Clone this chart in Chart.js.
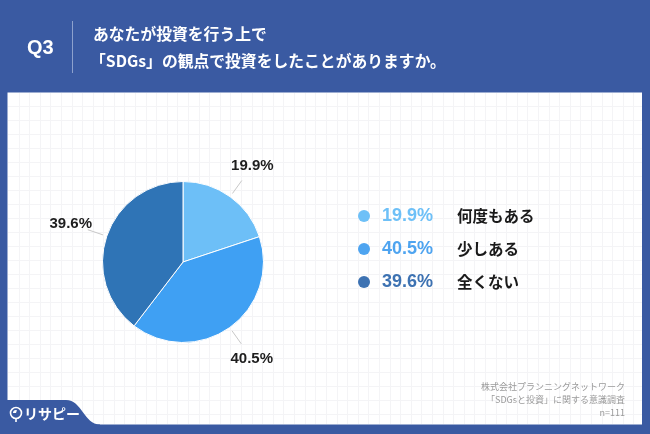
<!DOCTYPE html>
<html>
<head>
<meta charset="utf-8">
<script src="https://cdn.jsdelivr.net/npm/chart.js@4.4.0/dist/chart.umd.min.js"></script>
<style>
  body { margin: 0; background: #3a5aa2; }
  #wrap { width: 650px; height: 434px; }
</style>
</head>
<body>
<div id="wrap"><canvas id="myChart" width="650" height="434"></canvas></div>
<script>
// data
var categories = ['何度もある', '少しある', '全くない'];
var values = [19.9, 40.5, 39.6];
var sliceColors = ['#6dbff7', '#3fa0f3', '#2f74b6'];
var legendColors = ['#6ec0f7', '#4ea4f0', '#3d72b2'];
var titleLines = ['あなたが投資を行う上で', '「SDGs」の観点で投資をしたことがありますか。'];
var noteLines = ['株式会社プランニングネットワーク', '「SDGsと投資」に関する意識調査', 'n=111'];

var BLUE = '#3a5aa2';
var JP = '"Noto Sans CJK JP", "Noto Sans", sans-serif';
var NUM = '"Liberation Sans", "Noto Sans CJK JP", sans-serif';

function pct(v) { return v.toFixed(1) + '%'; }

var backdrop = {
  id: 'backdrop',
  beforeDraw: function(chart) {
    var c = chart.ctx;
    c.save();
    c.fillStyle = BLUE;
    c.fillRect(0, 0, 650, 434);
    // white panel
    c.fillStyle = '#ffffff';
    c.fillRect(7.5, 92.5, 634.5, 332);
    // faint grid
    c.strokeStyle = '#f4f4f6';
    c.lineWidth = 1;
    c.beginPath();
    for (var x = 18.5; x < 642; x += 10.6) { c.moveTo(Math.round(x) + 0.5, 93); c.lineTo(Math.round(x) + 0.5, 424); }
    for (var y = 106; y < 424; y += 14) { c.moveTo(8, Math.round(y) + 0.5); c.lineTo(642, Math.round(y) + 0.5); }
    c.stroke();
    // logo tab
    c.fillStyle = BLUE;
    c.beginPath();
    c.moveTo(0, 400);
    c.lineTo(66, 400);
    c.bezierCurveTo(82, 400, 84, 424.5, 100, 424.5);
    c.lineTo(100, 434);
    c.lineTo(0, 434);
    c.closePath();
    c.fill();
    // logo
    c.strokeStyle = '#ffffff';
    c.lineWidth = 1.6;
    c.beginPath();
    c.arc(16, 413, 5.5, 0, Math.PI * 2);
    c.stroke();
    c.beginPath();
    c.moveTo(16, 418.5); c.lineTo(16, 422);
    c.stroke();
    c.fillStyle = '#ffffff';
    c.beginPath();
    c.moveTo(16, 413); c.arc(16, 413, 3, Math.PI, Math.PI * 1.6); c.closePath();
    c.fill();
    c.font = 'bold 14px ' + JP;
    c.textBaseline = 'middle';
    c.textAlign = 'left';
    c.fillText('リサピー', 24, 414);
    // header
    c.font = 'bold 20px ' + NUM;
    c.fillText('Q3', 27, 48);
    c.strokeStyle = '#8da1cd';
    c.lineWidth = 1;
    c.beginPath();
    c.moveTo(72.5, 21); c.lineTo(72.5, 73);
    c.stroke();
    c.font = 'bold 15.8px ' + JP;
    c.fillText(titleLines[0], 93, 34);
    c.fillText(titleLines[1], 90, 61);
    c.restore();
  },
  afterDraw: function(chart) {
    var c = chart.ctx;
    c.save();
    // legend
    c.textBaseline = 'middle';
    for (var i = 0; i < categories.length; i++) {
      var y = 216 + i * 33;
      c.fillStyle = legendColors[i];
      c.beginPath();
      c.arc(364, y, 6, 0, Math.PI * 2);
      c.fill();
      c.textAlign = 'left';
      c.font = 'bold 18px ' + NUM;
      c.fillText(pct(values[i]), 382, y);
      c.fillStyle = '#1a1a1a';
      c.font = 'bold 15.5px ' + JP;
      c.fillText(categories[i], 457, y);
    }
    // source note
    c.fillStyle = '#9a9a9a';
    c.font = '9px ' + JP;
    c.textAlign = 'right';
    for (var j = 0; j < noteLines.length; j++) {
      c.fillText(noteLines[j], 625, 387 + j * 13);
    }
    c.restore();
  }
};

var outLabels = {
  id: 'outLabels',
  afterDatasetsDraw: function(chart) {
    var c = chart.ctx;
    var meta = chart.getDatasetMeta(0);
    c.save();
    meta.data.forEach(function(arc, i) {
      var p = arc.getProps(['x', 'y', 'startAngle', 'endAngle', 'outerRadius'], true);
      var mid = (p.startAngle + p.endAngle) / 2;
      var cs = Math.cos(mid), sn = Math.sin(mid);
      var r = p.outerRadius;
      c.strokeStyle = '#c8c8c8';
      c.lineWidth = 1;
      c.beginPath();
      c.moveTo(p.x + cs * (r + 4), p.y + sn * (r + 4));
      c.lineTo(p.x + cs * (r + 20), p.y + sn * (r + 20));
      c.stroke();
      c.fillStyle = '#1e1e1e';
      c.font = 'bold 15px ' + NUM;
      c.textAlign = 'center';
      c.textBaseline = 'middle';
      c.fillText(pct(values[i]), p.x + cs * (r + 38), p.y + sn * (r + 38));
    });
    c.restore();
  }
};

new Chart('myChart', {
  type: 'pie',
  data: {
    labels: categories,
    datasets: [{
      data: values,
      backgroundColor: sliceColors,
      borderColor: '#ffffff',
      borderWidth: 1
    }]
  },
  options: {
    responsive: false,
    animation: false,
    layout: { padding: { left: 102, top: 181, right: 386, bottom: 91 } },
    plugins: {
      legend: { display: false },
      tooltip: { enabled: false }
    }
  },
  plugins: [backdrop, outLabels]
});
</script>
</body>
</html>
